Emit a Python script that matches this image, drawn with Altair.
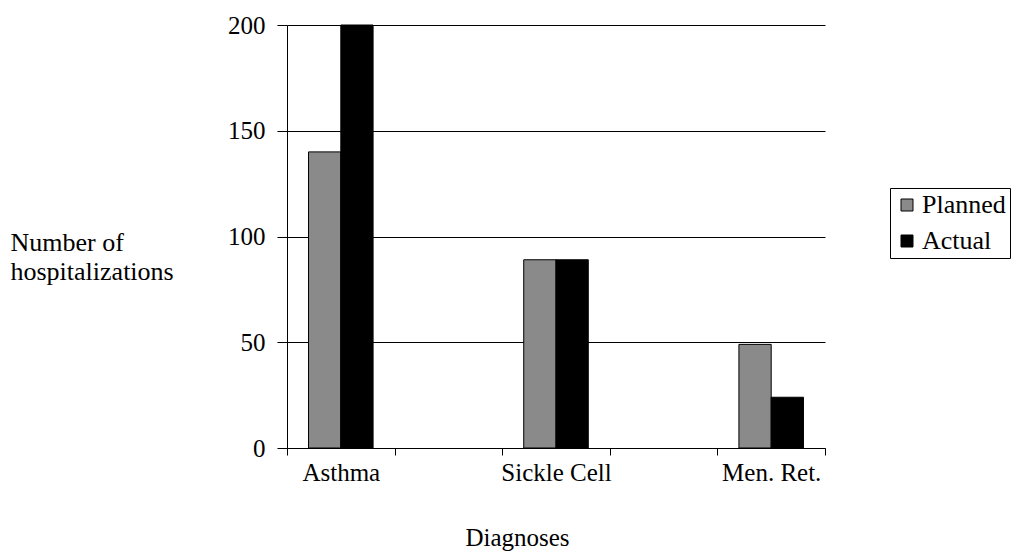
import altair as alt
import pandas as pd

categories = ["Asthma", "Sickle Cell", "Men. Ret."]
planned = [140, 89, 49]
actual = [200, 89, 24]
series = ["Planned", "Actual"]
y_ticks = [0, 50, 100, 150, 200]
colors = ["#8a8a8a", "#000000"]

FONT = "Liberation Serif"
HALF = 0.15  # half-width of a category's bar group, in category units

rows = []
for i, c in enumerate(categories):
    rows.append({"cat": c, "series": "Planned", "value": planned[i], "x0": i - HALF, "x1": i})
    rows.append({"cat": c, "series": "Actual", "value": actual[i], "x0": i, "x1": i + HALF})
df = pd.DataFrame(rows)

n = len(categories)
x_tick_vals = sorted(set([i - 0.25 for i in range(n)] + [i + 0.25 for i in range(n)]
                         + [i + 0.75 for i in range(n - 1)] + list(range(n))))

label_expr = " : ".join(
    f"datum.value == {i} ? '{c}'" for i, c in enumerate(categories)
) + " : ''"
cat_test = " || ".join(f"datum.value == {i}" for i in range(n))

chart = alt.Chart(df).mark_bar(stroke="black", strokeWidth=1).encode(
    x=alt.X(
        "x0:Q",
        scale=alt.Scale(domain=[-0.25, n - 0.75], nice=False, zero=False, padding=0),
        axis=alt.Axis(
            values=x_tick_vals,
            labelExpr=label_expr,
            labelOverlap=False,
            labelFlush=False,
            labelBound=False,
            grid=False,
            domainColor="black",
            domainWidth=1,
            tickColor="black",
            tickSize=7,
            tickWidth=1,
            tickOpacity={"condition": {"test": cat_test, "value": 0}, "value": 1},
            labelFont=FONT,
            labelFontSize=25,
            labelColor="black",
            labelBaseline="alphabetic",
            labelPadding=25,
            title="Diagnoses",
            titleFont=FONT,
            titleFontSize=25,
            titleFontWeight="normal",
            titleColor="black",
            titleAnchor="start",
            titleAlign="center",
            titleBaseline="alphabetic",
            titleX=230,
            titleY=97,
        ),
    ),
    x2="x1:Q",
    y=alt.Y(
        "value:Q",
        scale=alt.Scale(domain=[0, 200], nice=False, padding=0),
        axis=alt.Axis(
            values=y_ticks,
            grid=True,
            gridColor="black",
            gridWidth=1,
            gridOpacity=1,
            domainColor="black",
            domainWidth=1,
            tickColor="black",
            tickSize=10,
            tickWidth=1,
            labelFont=FONT,
            labelFontSize=25,
            labelColor="black",
            labelPadding=12,
            title=["Number of", "hospitalizations"],
            titleFont=FONT,
            titleFontSize=26,
            titleFontWeight="normal",
            titleColor="black",
            titleAngle=0,
            titleAlign="left",
            titleBaseline="alphabetic",
            titleLineHeight=29,
            titleX=-277,
            titleY=225,
        ),
    ),
    y2=alt.datum(0),
    color=alt.Color(
        "series:N",
        scale=alt.Scale(domain=series, range=colors),
        legend=alt.Legend(
            title=None,
            orient="none",
            legendX=603,
            legendY=163,
            symbolType="square",
            symbolSize=144,
            symbolStrokeColor="black",
            symbolStrokeWidth=1,
            symbolOpacity=1,
            labelFont=FONT,
            labelFontSize=26,
            labelColor="black",
            labelOffset=2,
            rowPadding=10,
            strokeColor="black",
            padding=4,
            cornerRadius=0,
        ),
    ),
).properties(
    width=538,
    height=423,
    background="white",
    autosize=alt.AutoSizeParams(type="none"),
    padding={"left": 279, "top": 17, "right": 186, "bottom": 104},
).configure_view(strokeWidth=0, stroke=None)

chart.save("out.html", embed_options={"renderer": "svg", "actions": False})
